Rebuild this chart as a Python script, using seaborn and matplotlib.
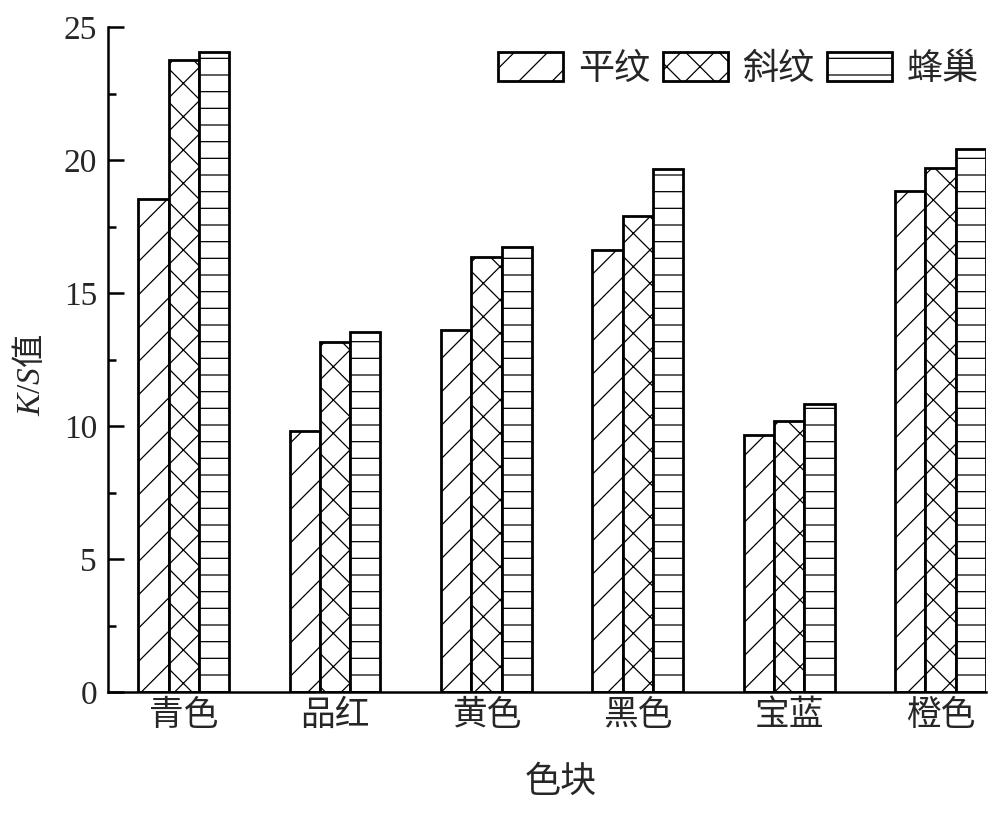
import numpy as np
import pandas as pd
import matplotlib
matplotlib.use('Agg')
import matplotlib.pyplot as plt
from matplotlib.ticker import MultipleLocator
import seaborn as sns

categories = ['青色', '品红', '黄色', '黑色', '宝蓝', '橙色']
series_names = ['平纹', '斜纹', '蜂巢']
plain = [18.55, 9.81, 13.61, 16.62, 9.66, 18.85]
twill = [23.76, 13.17, 16.34, 17.89, 10.19, 19.69]
honeycomb = [24.05, 13.52, 16.72, 19.66, 10.83, 20.41]
y_ticks = [0, 5, 10, 15, 20, 25]
x_label = '色块'
y_label = r'$K$/$S$$\mathrm{值}$'

sns.set_theme(style='white')
plt.rcParams['font.family'] = ['Liberation Serif', 'Noto Sans CJK SC']
plt.rcParams['mathtext.fontset'] = 'custom'
plt.rcParams['mathtext.it'] = 'Liberation Serif:italic'
plt.rcParams['mathtext.rm'] = 'Noto Sans CJK SC'
plt.rcParams['hatch.color'] = 'black'
plt.rcParams['hatch.linewidth'] = 0.9

df = pd.DataFrame({
    'cat': categories * 3,
    'val': plain + twill + honeycomb,
    'tex': [s for s in series_names for _ in categories],
})

fig = plt.figure(figsize=(10, 8.23), dpi=100)
fig.patch.set_facecolor('white')
ax = fig.add_axes([0.108, 1 - 692 / 823, 0.878, 665 / 823])
sns.barplot(data=df, x='cat', y='val', hue='tex', order=categories,
            hue_order=series_names, palette=['white'] * 3, saturation=1,
            edgecolor='black', linewidth=2.0, width=0.6, gap=0,
            errorbar=None, legend=False, ax=ax)

hatches = ['/', 'x', '-']
for cont, h in zip(ax.containers, hatches):
    for bar in cont:
        bar.set_hatch(h)
        bar.set_edgecolor('black')

ax.set_xlim(-0.5, 5.3)
ax.set_ylim(0, 25)
ax.set_yticks(y_ticks)
ax.yaxis.set_minor_locator(MultipleLocator(2.5))
ax.tick_params(axis='y', which='major', direction='in', length=11.5, width=1.8,
               labelsize=24, pad=8, color='black', left=True)
ax.tick_params(axis='y', which='minor', direction='in', length=5.8, width=1.8,
               color='black', left=True)
ax.tick_params(axis='x', length=0, labelsize=25, pad=6)
for s in ['top', 'right']:
    ax.spines[s].set_visible(False)
for s in ['left', 'bottom']:
    ax.spines[s].set_linewidth(1.8)
    ax.spines[s].set_color('black')

ax.set_xlabel(x_label, fontsize=26)
ax.xaxis.set_label_coords(0.516, -0.112)
ax.set_ylabel(y_label, fontsize=24)
ax.yaxis.set_label_coords(-0.069, 0.477)

ax.legend(ax.containers, series_names, loc='upper right', bbox_to_anchor=(1.0, 0.973),
          ncol=3, frameon=False, fontsize=26, handlelength=1.8, handleheight=0.86,
          handletextpad=0.4, columnspacing=0.35, borderaxespad=0, borderpad=0.2)

fig.savefig('out.png', dpi=100, facecolor='white')
